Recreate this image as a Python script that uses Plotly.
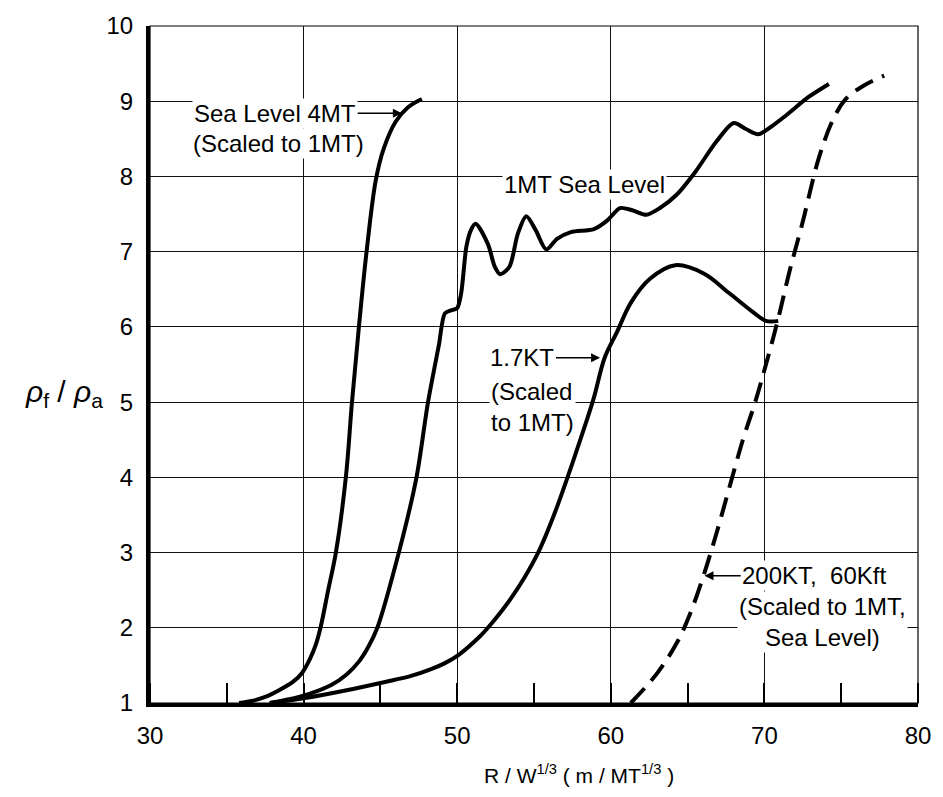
import plotly.graph_objects as go

# ---- data ----
sl4mt_x = [35.8, 36.7, 37.5, 38.4, 39.3, 39.9, 40.4, 40.8, 41.1, 41.6, 42.1, 42.75, 43.15, 43.6, 44.1, 44.7, 45.2, 46.0, 46.8, 47.7]
sl4mt_y = [1.0, 1.03, 1.08, 1.17, 1.28, 1.4, 1.58, 1.78, 2.0, 2.5, 3.0, 4.0, 5.0, 6.0, 7.0, 7.95, 8.36, 8.73, 8.92, 9.03]

mt1_x = [37.8, 39.7, 41.8, 42.8, 43.6, 44.2, 44.8, 46.2, 47.35, 48.1, 48.8, 49.2, 49.6, 50.0, 50.26, 50.6, 50.9, 51.2,
         52.0, 52.45, 52.8, 53.4, 53.95, 54.5, 55.1, 55.8, 56.5, 57.4, 58.9, 59.8, 60.6, 61.4, 62.3, 63.2,
         64.3, 65.5, 66.9, 68.0, 68.8, 69.6, 70.5, 71.4, 72.9, 74.2]
mt1_y = [1.0, 1.08, 1.24, 1.38, 1.55, 1.74, 2.0, 3.0, 4.0, 5.0, 5.75, 6.18, 6.22, 6.25, 6.45, 7.07, 7.29, 7.37,
         7.1, 6.8, 6.7, 6.8, 7.24, 7.47, 7.29, 7.03, 7.17, 7.26, 7.3, 7.42, 7.58, 7.55, 7.49, 7.58,
         7.76, 8.06, 8.47, 8.71, 8.63, 8.56, 8.67, 8.81, 9.06, 9.23]

kt17_x = [37.8, 40.2, 42.8, 45.3, 47.0, 48.3, 49.2, 50.1, 51.4, 52.0, 53.5, 55.2, 56.3, 57.2, 58.0, 58.9, 59.6, 60.4,
          61.3, 62.55, 64.2, 66.05, 67.7, 69.3, 70.1, 70.9]
kt17_y = [1.0, 1.07, 1.17, 1.28, 1.36, 1.45, 1.53, 1.64, 1.87, 2.0, 2.39, 2.97, 3.5, 4.01, 4.49, 5.06, 5.59, 5.93,
          6.32, 6.64, 6.82, 6.71, 6.45, 6.19, 6.08, 6.08]

kt200_x = [61.3, 63.0, 64.3, 65.15, 66.05, 66.9, 67.7, 68.6, 69.4, 70.1, 70.9, 71.6, 72.5, 73.55, 74.5, 75.3, 76.4, 77.8]
kt200_y = [1.0, 1.39, 1.8, 2.18, 2.7, 3.27, 3.85, 4.5, 5.0, 5.5, 6.11, 6.71, 7.4, 8.25, 8.77, 9.03, 9.2, 9.34]

x_ticks = [30, 40, 50, 60, 70, 80]
y_ticks = [1, 2, 3, 4, 5, 6, 7, 8, 9, 10]

FONT = "Liberation Sans, Arial, sans-serif"

fig = go.Figure()
fig.add_trace(go.Scatter(x=sl4mt_x, y=sl4mt_y, mode="lines",
                         line=dict(color="black", width=4, shape="spline", smoothing=1.0), showlegend=False))
fig.add_trace(go.Scatter(x=mt1_x, y=mt1_y, mode="lines",
                         line=dict(color="black", width=4, shape="spline", smoothing=0.8), showlegend=False))
fig.add_trace(go.Scatter(x=kt17_x, y=kt17_y, mode="lines",
                         line=dict(color="black", width=4, shape="spline", smoothing=1.0), showlegend=False))
fig.add_trace(go.Scatter(x=kt200_x, y=kt200_y, mode="lines",
                         line=dict(color="black", width=4, dash="20px,10px", shape="spline", smoothing=1.0),
                         showlegend=False))

lab_font = dict(family=FONT, size=24, color="black")
base = dict(xref="x", yref="y", font=lab_font, bgcolor="white", xanchor="center", yanchor="middle")
arrow = dict(xref="x", yref="y", axref="x", ayref="y", showarrow=True, font=lab_font, bgcolor="white",
             xanchor="center", yanchor="middle",
             arrowhead=2, arrowsize=1.2, arrowwidth=1.5, arrowcolor="black")
annotations = [
    dict(arrow, text="Sea Level 4MT", x=46.4, y=8.84, ax=38.15, ay=8.84),
    dict(base, text="(Scaled to 1MT)", x=38.35, y=8.44, showarrow=False),
    dict(base, text="1MT Sea Level", x=58.3, y=7.89, showarrow=False),
    dict(arrow, text="1.7KT", x=59.3, y=5.59, ax=54.25, ay=5.59),
    dict(base, text="(Scaled<br>to 1MT)", x=52.1, y=4.94, xanchor="left", align="left", showarrow=False),
    dict(arrow, text="200KT,  60Kft", x=66.1, y=2.69, ax=73.24, ay=2.69),
    dict(base, text="(Scaled to 1MT,<br>Sea Level)", x=73.8, y=2.08, align="center", showarrow=False),
    dict(x=0.559, y=-0.105, xref="paper", yref="paper", showarrow=False, xanchor="center", yanchor="middle",
         text="R / W<sup>1/3</sup> ( m / MT<sup>1/3</sup> )", font=dict(family=FONT, size=21, color="black")),
    dict(x=-0.1125, y=0.457, xref="paper", yref="paper", showarrow=False, xanchor="center", yanchor="middle",
         text="<i>ρ</i><sub>f</sub> / <i>ρ</i><sub>a</sub>", font=dict(family=FONT, size=30, color="black")),
]

fig.update_layout(
    width=943, height=797,
    margin=dict(l=150, r=20, t=18, b=94),
    paper_bgcolor="white", plot_bgcolor="white",
    annotations=annotations,
    shapes=[dict(type="rect", xref="paper", yref="paper", x0=0, y0=0, x1=1, y1=1,
                 line=dict(color="black", width=1.2), layer="below")],
)
fig.update_xaxes(range=[30, 80], tickvals=x_ticks, ticktext=[str(v) for v in x_ticks],
                 showgrid=True, gridcolor="#111", gridwidth=1, zeroline=False,
                 showline=True, linecolor="black", linewidth=4, ticks="", ticklabelstandoff=8,
                 minor=dict(dtick=5, tick0=30, ticks="inside", ticklen=20, tickwidth=1.5, tickcolor="black", showgrid=False),
                 tickfont=dict(family=FONT, size=24, color="black"))
fig.update_yaxes(range=[1, 10], tickvals=y_ticks, ticktext=[str(v) for v in y_ticks],
                 showgrid=True, gridcolor="#111", gridwidth=1, zeroline=False,
                 showline=True, linecolor="black", linewidth=4, ticks="", ticklabelstandoff=8,
                 tickfont=dict(family=FONT, size=24, color="black"))

fig.write_html("out.html", config={"displayModeBar": False},
               post_script="document.body.style.margin='0';document.body.style.padding='0';")
